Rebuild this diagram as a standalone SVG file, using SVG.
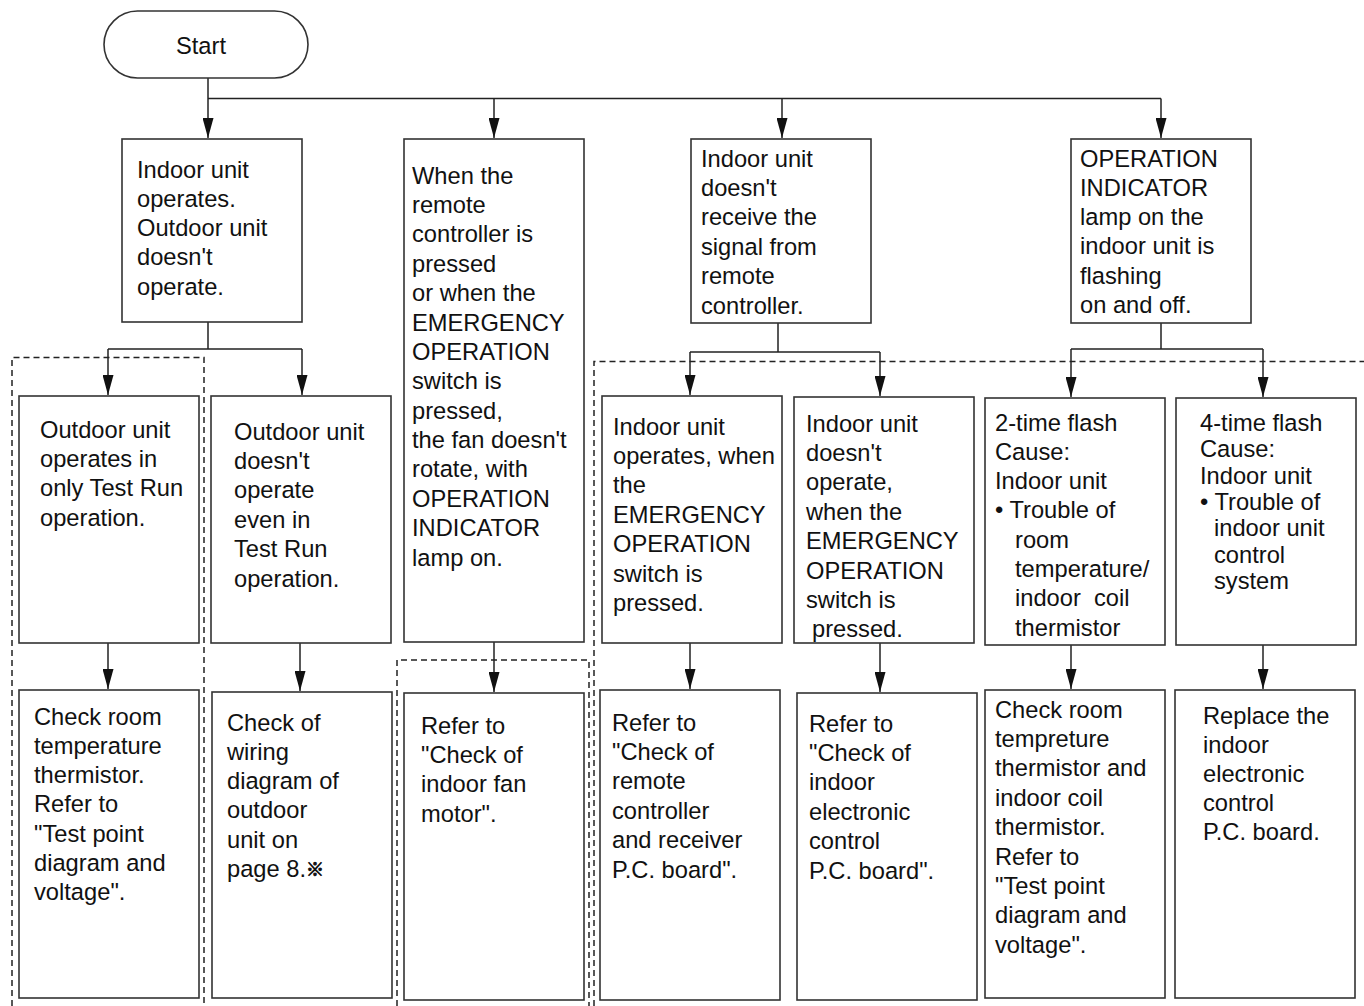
<svg xmlns="http://www.w3.org/2000/svg" width="1364" height="1006" viewBox="0 0 1364 1006">
<defs>
<marker id="ah" markerUnits="userSpaceOnUse" markerWidth="20" markerHeight="11" refX="20" refY="5.5" orient="auto">
<path d="M0,0 L20,5.5 L0,11 z" fill="#111"/>
</marker>
<style>
.box{fill:#fff;stroke:#333;stroke-width:1.6}
.ln{fill:none;stroke:#222;stroke-width:1.5}
.ar{fill:none;stroke:#222;stroke-width:1.5;marker-end:url(#ah)}
.dash{fill:none;stroke:#222;stroke-width:1.5;stroke-dasharray:6 4}
text{font-family:"Liberation Sans",Arial,"Noto Sans CJK JP",sans-serif;font-size:23.7px;fill:#111}
.mark{font-family:"Noto Sans CJK JP","Noto Sans CJK SC",sans-serif;font-size:18px;font-weight:bold;stroke:#111;stroke-width:0.9}
</style>
</defs>
<rect width="1364" height="1006" fill="#fff"/>

<g id="dashed-groups">
<path class="dash" d="M12,1006 V357.5 H204 V1006"/>
<path class="dash" d="M397,1006 V660 H589 V1006"/>
<path class="dash" d="M594,1006 V361.5 H1364"/>
</g>

<g id="connectors">
<path class="ln" d="M208,98.5 H1161"/>
<path class="ar" d="M208,78 V138"/>
<path class="ar" d="M494,98.5 V138"/>
<path class="ar" d="M782,98.5 V138"/>
<path class="ar" d="M1161,98.5 V138"/>
<path class="ln" d="M208,322 V349 M108,349 H302"/>
<path class="ar" d="M108,349 V395"/>
<path class="ar" d="M302,349 V395"/>
<path class="ln" d="M778,323 V352 M690,352 H880"/>
<path class="ar" d="M690,352 V395"/>
<path class="ar" d="M880,352 V396"/>
<path class="ln" d="M1161,323 V349 M1071,349 H1263"/>
<path class="ar" d="M1071,349 V397"/>
<path class="ar" d="M1263,349 V397"/>
<path class="ar" d="M108,643 V689"/>
<path class="ar" d="M300,643 V691"/>
<path class="ar" d="M494,642 V692"/>
<path class="ar" d="M690,643 V689"/>
<path class="ar" d="M880,643 V692"/>
<path class="ar" d="M1071,645 V689"/>
<path class="ar" d="M1263,645 V689"/>
</g>

<g id="start">
<rect class="box" x="104" y="11" width="204" height="67" rx="33.5" ry="33.5"/>
<text x="201" y="53.5" text-anchor="middle">Start</text>
</g>

<g id="a1">
<rect class="box" x="122" y="139" width="180" height="183"/>
<text y="177.5"><tspan x="137">Indoor unit</tspan><tspan x="137" dy="29.3">operates.</tspan><tspan x="137" dy="29.3">Outdoor unit</tspan><tspan x="137" dy="29.3">doesn't</tspan><tspan x="137" dy="29.3">operate.</tspan></text>
</g>

<g id="a2">
<rect class="box" x="404" y="139" width="180" height="503"/>
<text y="183.5"><tspan x="412">When the</tspan><tspan x="412" dy="29.4">remote</tspan><tspan x="412" dy="29.4">controller is</tspan><tspan x="412" dy="29.4">pressed</tspan><tspan x="412" dy="29.4">or when the</tspan><tspan x="412" dy="29.4">EMERGENCY</tspan><tspan x="412" dy="29.4">OPERATION</tspan><tspan x="412" dy="29.4">switch is</tspan><tspan x="412" dy="29.4">pressed,</tspan><tspan x="412" dy="29.4">the fan doesn't</tspan><tspan x="412" dy="29.4">rotate, with</tspan><tspan x="412" dy="29.4">OPERATION</tspan><tspan x="412" dy="29.4">INDICATOR</tspan><tspan x="412" dy="29.4">lamp on.</tspan></text>
</g>

<g id="a3">
<rect class="box" x="691" y="139" width="180" height="184"/>
<text y="166.5"><tspan x="701">Indoor unit</tspan><tspan x="701" dy="29.4">doesn't</tspan><tspan x="701" dy="29.4">receive the</tspan><tspan x="701" dy="29.4">signal from</tspan><tspan x="701" dy="29.4">remote</tspan><tspan x="701" dy="29.4">controller.</tspan></text>
</g>

<g id="a4">
<rect class="box" x="1071" y="139" width="180" height="184"/>
<text y="166.5"><tspan x="1080">OPERATION</tspan><tspan x="1080" dy="29.3">INDICATOR</tspan><tspan x="1080" dy="29.3">lamp on the</tspan><tspan x="1080" dy="29.3">indoor unit is</tspan><tspan x="1080" dy="29.3">flashing</tspan><tspan x="1080" dy="29.3">on and off.</tspan></text>
</g>

<g id="b1">
<rect class="box" x="19" y="396" width="180" height="247"/>
<text y="437.5"><tspan x="40">Outdoor unit</tspan><tspan x="40" dy="29.4">operates in</tspan><tspan x="40" dy="29.4">only Test Run</tspan><tspan x="40" dy="29.4">operation.</tspan></text>
</g>

<g id="b2">
<rect class="box" x="211" y="396" width="180" height="247"/>
<text y="439.5"><tspan x="234">Outdoor unit</tspan><tspan x="234" dy="29.4">doesn't</tspan><tspan x="234" dy="29.4">operate</tspan><tspan x="234" dy="29.4">even in</tspan><tspan x="234" dy="29.4">Test Run</tspan><tspan x="234" dy="29.4">operation.</tspan></text>
</g>

<g id="b3">
<rect class="box" x="602" y="396" width="180" height="247"/>
<text y="434.5"><tspan x="613">Indoor unit</tspan><tspan x="613" dy="29.4">operates, when</tspan><tspan x="613" dy="29.4">the</tspan><tspan x="613" dy="29.4">EMERGENCY</tspan><tspan x="613" dy="29.4">OPERATION</tspan><tspan x="613" dy="29.4">switch is</tspan><tspan x="613" dy="29.4">pressed.</tspan></text>
</g>

<g id="b4">
<rect class="box" x="794" y="397" width="180" height="246"/>
<text y="431.5"><tspan x="806">Indoor unit</tspan><tspan x="806" dy="29.4">doesn't</tspan><tspan x="806" dy="29.4">operate,</tspan><tspan x="806" dy="29.4">when the</tspan><tspan x="806" dy="29.4">EMERGENCY</tspan><tspan x="806" dy="29.4">OPERATION</tspan><tspan x="806" dy="29.4">switch is</tspan><tspan x="812" dy="29.4">pressed.</tspan></text>
</g>

<g id="b5">
<rect class="box" x="985" y="398" width="180" height="247"/>
<text y="430.5" style="white-space:pre"><tspan x="995">2-time flash</tspan><tspan x="995" dy="29.3">Cause:</tspan><tspan x="995" dy="29.3">Indoor unit</tspan><tspan x="995" dy="29.3">• Trouble of</tspan><tspan x="1015" dy="29.3">room</tspan><tspan x="1015" dy="29.3">temperature/</tspan><tspan x="1015" dy="29.3">indoor  coil</tspan><tspan x="1015" dy="29.3">thermistor</tspan></text>
</g>

<g id="b6">
<rect class="box" x="1176" y="398" width="180" height="247"/>
<text y="430.7"><tspan x="1200">4-time flash</tspan><tspan x="1200" dy="26.4">Cause:</tspan><tspan x="1200" dy="26.4">Indoor unit</tspan><tspan x="1200" dy="26.4">• Trouble of</tspan><tspan x="1214" dy="26.4">indoor unit</tspan><tspan x="1214" dy="26.4">control</tspan><tspan x="1214" dy="26.4">system</tspan></text>
</g>

<g id="c1">
<rect class="box" x="19" y="690" width="180" height="308"/>
<text y="724.5"><tspan x="34">Check room</tspan><tspan x="34" dy="29.3">temperature</tspan><tspan x="34" dy="29.3">thermistor.</tspan><tspan x="34" dy="29.3">Refer to</tspan><tspan x="34" dy="29.3">"Test point</tspan><tspan x="34" dy="29.3">diagram and</tspan><tspan x="34" dy="29.3">voltage".</tspan></text>
</g>

<g id="c2">
<rect class="box" x="212" y="692" width="180" height="306"/>
<text y="730.5"><tspan x="227">Check of</tspan><tspan x="227" dy="29.3">wiring</tspan><tspan x="227" dy="29.3">diagram of</tspan><tspan x="227" dy="29.3">outdoor</tspan><tspan x="227" dy="29.3">unit on</tspan><tspan x="227" dy="29.3">page 8.</tspan><tspan class="mark" dy="-1">※</tspan></text>
</g>

<g id="c3">
<rect class="box" x="404" y="693" width="180" height="307"/>
<text y="733.5"><tspan x="421">Refer to</tspan><tspan x="421" dy="29.4">"Check of</tspan><tspan x="421" dy="29.4">indoor fan</tspan><tspan x="421" dy="29.4">motor".</tspan></text>
</g>

<g id="c4">
<rect class="box" x="600" y="690" width="180" height="310"/>
<text y="730.5"><tspan x="612">Refer to</tspan><tspan x="612" dy="29.4">"Check of</tspan><tspan x="612" dy="29.4">remote</tspan><tspan x="612" dy="29.4">controller</tspan><tspan x="612" dy="29.4">and receiver</tspan><tspan x="612" dy="29.4">P.C. board".</tspan></text>
</g>

<g id="c5">
<rect class="box" x="797" y="693" width="180" height="307"/>
<text y="731.5"><tspan x="809">Refer to</tspan><tspan x="809" dy="29.4">"Check of</tspan><tspan x="809" dy="29.4">indoor</tspan><tspan x="809" dy="29.4">electronic</tspan><tspan x="809" dy="29.4">control</tspan><tspan x="809" dy="29.4">P.C. board".</tspan></text>
</g>

<g id="c6">
<rect class="box" x="985" y="690" width="180" height="308"/>
<text y="717.5"><tspan x="995">Check room</tspan><tspan x="995" dy="29.4">tempreture</tspan><tspan x="995" dy="29.4">thermistor and</tspan><tspan x="995" dy="29.4">indoor coil</tspan><tspan x="995" dy="29.4">thermistor.</tspan><tspan x="995" dy="29.4">Refer to</tspan><tspan x="995" dy="29.4">"Test point</tspan><tspan x="995" dy="29.4">diagram and</tspan><tspan x="995" dy="29.4">voltage".</tspan></text>
</g>

<g id="c7">
<rect class="box" x="1175" y="690" width="180" height="308"/>
<text y="723.5"><tspan x="1203">Replace the</tspan><tspan x="1203" dy="29.2">indoor</tspan><tspan x="1203" dy="29.2">electronic</tspan><tspan x="1203" dy="29.2">control</tspan><tspan x="1203" dy="29.2">P.C. board.</tspan></text>
</g>
</svg>
